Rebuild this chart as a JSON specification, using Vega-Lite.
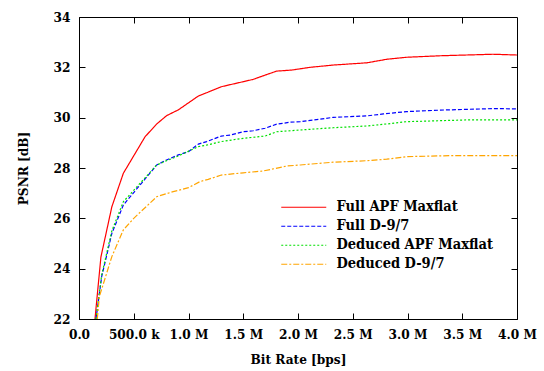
{
  "$schema": "https://vega.github.io/schema/vega-lite/v6.json",
  "autosize": "none",
  "width": 438,
  "height": 302,
  "padding": {"left": 79, "top": 17, "right": 27, "bottom": 52},
  "background": "white",
  "config": {
    "view": {"stroke": "black", "strokeWidth": 1},
    "font": "DejaVu Serif Condensed, DejaVu Serif",
    "axis": {"domainColor": "black", "tickColor": "black", "labelColor": "black", "titleColor": "black", "labelFont": "DejaVu Serif Condensed, DejaVu Serif", "titleFont": "DejaVu Serif Condensed, DejaVu Serif", "labelFontWeight": "bold", "titleFontWeight": "bold", "labelFontSize": 13.5, "titleFontSize": 13.5, "grid": false, "tickSize": -6},
    "legend": {"labelFont": "DejaVu Serif Condensed, DejaVu Serif"}
  },
  "data": {"values": [
    {"s": "Full APF Maxflat", "r": 146000, "p": 22.0},
    {"s": "Full APF Maxflat", "r": 200000, "p": 24.46},
    {"s": "Full APF Maxflat", "r": 300000, "p": 26.46},
    {"s": "Full APF Maxflat", "r": 405000, "p": 27.79},
    {"s": "Full APF Maxflat", "r": 603000, "p": 29.24},
    {"s": "Full APF Maxflat", "r": 710000, "p": 29.75},
    {"s": "Full APF Maxflat", "r": 800000, "p": 30.08},
    {"s": "Full APF Maxflat", "r": 907000, "p": 30.31},
    {"s": "Full APF Maxflat", "r": 1090000, "p": 30.86},
    {"s": "Full APF Maxflat", "r": 1166000, "p": 30.99},
    {"s": "Full APF Maxflat", "r": 1300000, "p": 31.23},
    {"s": "Full APF Maxflat", "r": 1500000, "p": 31.43},
    {"s": "Full APF Maxflat", "r": 1590000, "p": 31.52},
    {"s": "Full APF Maxflat", "r": 1680000, "p": 31.66},
    {"s": "Full APF Maxflat", "r": 1805000, "p": 31.85},
    {"s": "Full APF Maxflat", "r": 1940000, "p": 31.89},
    {"s": "Full APF Maxflat", "r": 2110000, "p": 32.0},
    {"s": "Full APF Maxflat", "r": 2320000, "p": 32.09},
    {"s": "Full APF Maxflat", "r": 2630000, "p": 32.18},
    {"s": "Full APF Maxflat", "r": 2810000, "p": 32.32},
    {"s": "Full APF Maxflat", "r": 2990000, "p": 32.40},
    {"s": "Full APF Maxflat", "r": 3300000, "p": 32.46},
    {"s": "Full APF Maxflat", "r": 3540000, "p": 32.49},
    {"s": "Full APF Maxflat", "r": 3780000, "p": 32.52},
    {"s": "Full APF Maxflat", "r": 4000000, "p": 32.49},
    {"s": "Full D-9/7", "r": 155000, "p": 22.0},
    {"s": "Full D-9/7", "r": 207000, "p": 23.68},
    {"s": "Full D-9/7", "r": 300000, "p": 25.4},
    {"s": "Full D-9/7", "r": 405000, "p": 26.53},
    {"s": "Full D-9/7", "r": 710000, "p": 28.12},
    {"s": "Full D-9/7", "r": 800000, "p": 28.32},
    {"s": "Full D-9/7", "r": 907000, "p": 28.52},
    {"s": "Full D-9/7", "r": 1000000, "p": 28.65},
    {"s": "Full D-9/7", "r": 1090000, "p": 28.95},
    {"s": "Full D-9/7", "r": 1166000, "p": 29.05},
    {"s": "Full D-9/7", "r": 1300000, "p": 29.27},
    {"s": "Full D-9/7", "r": 1380000, "p": 29.31},
    {"s": "Full D-9/7", "r": 1500000, "p": 29.44},
    {"s": "Full D-9/7", "r": 1590000, "p": 29.48},
    {"s": "Full D-9/7", "r": 1700000, "p": 29.58},
    {"s": "Full D-9/7", "r": 1805000, "p": 29.74},
    {"s": "Full D-9/7", "r": 1930000, "p": 29.82},
    {"s": "Full D-9/7", "r": 2020000, "p": 29.84},
    {"s": "Full D-9/7", "r": 2320000, "p": 30.01},
    {"s": "Full D-9/7", "r": 2630000, "p": 30.07},
    {"s": "Full D-9/7", "r": 2780000, "p": 30.15},
    {"s": "Full D-9/7", "r": 2990000, "p": 30.24},
    {"s": "Full D-9/7", "r": 3300000, "p": 30.30},
    {"s": "Full D-9/7", "r": 3540000, "p": 30.33},
    {"s": "Full D-9/7", "r": 3780000, "p": 30.36},
    {"s": "Full D-9/7", "r": 4000000, "p": 30.35},
    {"s": "Deduced APF Maxflat", "r": 155000, "p": 22.0},
    {"s": "Deduced APF Maxflat", "r": 207000, "p": 23.75},
    {"s": "Deduced APF Maxflat", "r": 300000, "p": 25.5},
    {"s": "Deduced APF Maxflat", "r": 405000, "p": 26.66},
    {"s": "Deduced APF Maxflat", "r": 710000, "p": 28.12},
    {"s": "Deduced APF Maxflat", "r": 800000, "p": 28.29},
    {"s": "Deduced APF Maxflat", "r": 907000, "p": 28.48},
    {"s": "Deduced APF Maxflat", "r": 1090000, "p": 28.85},
    {"s": "Deduced APF Maxflat", "r": 1166000, "p": 28.91},
    {"s": "Deduced APF Maxflat", "r": 1300000, "p": 29.05},
    {"s": "Deduced APF Maxflat", "r": 1500000, "p": 29.18},
    {"s": "Deduced APF Maxflat", "r": 1590000, "p": 29.22},
    {"s": "Deduced APF Maxflat", "r": 1700000, "p": 29.27},
    {"s": "Deduced APF Maxflat", "r": 1805000, "p": 29.44},
    {"s": "Deduced APF Maxflat", "r": 2020000, "p": 29.51},
    {"s": "Deduced APF Maxflat", "r": 2320000, "p": 29.60},
    {"s": "Deduced APF Maxflat", "r": 2630000, "p": 29.67},
    {"s": "Deduced APF Maxflat", "r": 2810000, "p": 29.75},
    {"s": "Deduced APF Maxflat", "r": 2990000, "p": 29.84},
    {"s": "Deduced APF Maxflat", "r": 3300000, "p": 29.88},
    {"s": "Deduced APF Maxflat", "r": 3540000, "p": 29.91},
    {"s": "Deduced APF Maxflat", "r": 4000000, "p": 29.91},
    {"s": "Deduced D-9/7", "r": 167000, "p": 22.0},
    {"s": "Deduced D-9/7", "r": 186000, "p": 22.89},
    {"s": "Deduced D-9/7", "r": 300000, "p": 24.48},
    {"s": "Deduced D-9/7", "r": 405000, "p": 25.54},
    {"s": "Deduced D-9/7", "r": 500000, "p": 26.0},
    {"s": "Deduced D-9/7", "r": 710000, "p": 26.86},
    {"s": "Deduced D-9/7", "r": 860000, "p": 27.06},
    {"s": "Deduced D-9/7", "r": 1000000, "p": 27.22},
    {"s": "Deduced D-9/7", "r": 1105000, "p": 27.46},
    {"s": "Deduced D-9/7", "r": 1180000, "p": 27.55},
    {"s": "Deduced D-9/7", "r": 1300000, "p": 27.72},
    {"s": "Deduced D-9/7", "r": 1500000, "p": 27.81},
    {"s": "Deduced D-9/7", "r": 1680000, "p": 27.88},
    {"s": "Deduced D-9/7", "r": 1900000, "p": 28.08},
    {"s": "Deduced D-9/7", "r": 2020000, "p": 28.12},
    {"s": "Deduced D-9/7", "r": 2320000, "p": 28.23},
    {"s": "Deduced D-9/7", "r": 2630000, "p": 28.29},
    {"s": "Deduced D-9/7", "r": 2810000, "p": 28.35},
    {"s": "Deduced D-9/7", "r": 2990000, "p": 28.45},
    {"s": "Deduced D-9/7", "r": 3390000, "p": 28.49},
    {"s": "Deduced D-9/7", "r": 4000000, "p": 28.49}
  ]},
  "layer": [
    {
      "mark": {"type": "line", "strokeWidth": 1.2, "clip": true},
      "encoding": {
        "x": {"field": "r", "type": "quantitative", "scale": {"domain": [0, 4000000], "nice": false}, "axis": {"title": "Bit Rate [bps]", "values": [0, 500000, 1000000, 1500000, 2000000, 2500000, 3000000, 3500000, 4000000], "labelExpr": "datum.value == 0 ? '0.0' : datum.value < 1000000 ? format(datum.value/1000, '.1f') + ' k' : format(datum.value/1000000, '.1f') + ' M'", "labelPadding": 14, "titlePadding": 12, "labelFlush": false}},
        "y": {"field": "p", "type": "quantitative", "scale": {"domain": [22, 34], "nice": false, "zero": false}, "axis": {"title": "PSNR [dB]", "values": [22, 24, 26, 28, 30, 32, 34], "labelPadding": 15, "titlePadding": 23}},
        "color": {"field": "s", "type": "nominal", "scale": {"domain": ["Full APF Maxflat", "Full D-9/7", "Deduced APF Maxflat", "Deduced D-9/7"], "range": ["#ff0000", "#0000ff", "#00e000", "#ffa500"]}, "legend": {"title": null, "orient": "none", "legendX": 217.5, "legendY": 183, "padding": 0, "symbolType": "M-4.5,0H4.5", "symbolSize": 100, "symbolStrokeWidth": 1.2, "symbolFillColor": "transparent", "labelFontWeight": "bold", "labelFontSize": 14.5, "labelColor": "black", "labelLimit": 400, "rowPadding": 4, "labelOffset": 25.5}},
        "strokeDash": {"field": "s", "type": "nominal", "scale": {"domain": ["Full APF Maxflat", "Full D-9/7", "Deduced APF Maxflat", "Deduced D-9/7"], "range": [[1, 0], [4, 2], [2, 2], [6, 2, 2, 2]]}, "legend": null}
      }
    },
    {
      "mark": {"type": "line", "opacity": 0},
      "encoding": {
        "x": {"field": "r", "type": "quantitative", "scale": {"domain": [0, 4000000], "nice": false}, "axis": {"orient": "top", "title": null, "labels": false, "domain": false, "values": [500000, 1000000, 1500000, 2000000, 2500000, 3000000, 3500000]}},
        "y": {"field": "p", "type": "quantitative", "scale": {"domain": [22, 34], "nice": false, "zero": false}, "axis": {"orient": "right", "title": null, "labels": false, "domain": false, "values": [24, 26, 28, 30, 32]}}
      }
    }
  ],
  "resolve": {"axis": {"x": "independent", "y": "independent"}}
}
